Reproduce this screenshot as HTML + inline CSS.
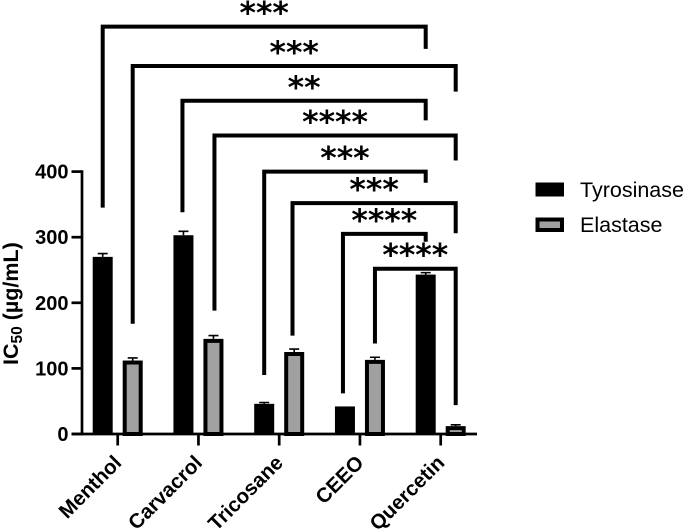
<!DOCTYPE html>
<html lang="en">
<head>
<meta charset="utf-8">
<title>IC50 chart</title>
<style>
html,body{margin:0;padding:0;background:#fff;width:685px;height:530px;overflow:hidden}
svg{display:block;filter:blur(0.35px)}
text{font-family:"Liberation Sans",sans-serif;fill:#000}
.tick{font-weight:bold;font-size:20px}
.cat{font-weight:bold;font-size:20.5px}
.stars{font-family:"DejaVu Sans",sans-serif;font-weight:bold;font-size:31.5px}
</style>
</head>
<body>
<svg id="chart" width="685" height="530" viewBox="0 0 685 530" xmlns="http://www.w3.org/2000/svg">
  <g id="brackets"></g>
  <g id="bars"></g>
  <g id="axes"></g>
  <text transform="translate(18,365) rotate(-90)" font-weight="bold" font-size="21.5">IC<tspan font-size="15.5" dy="4">50</tspan><tspan dy="-4"> (µg/mL)</tspan></text>
  <g>
    <rect x="535.5" y="182.5" width="28.5" height="14" fill="#000"/>
    <text x="580" y="197" font-size="21.5">Tyrosinase</text>
    <rect x="537.5" y="219.5" width="24.5" height="10.5" fill="#a0a0a0" stroke="#000" stroke-width="4"/>
    <text x="580" y="232" font-size="21.5">Elastase</text>
  </g>
</svg>
<script>
const categories = ["Menthol", "Carvacrol", "Tricosane", "CEEO", "Quercetin"];
const tyrosinase = [270, 303, 46, 42, 243];
const tyrosinaseError = [5, 6, 2, 0, 3];
const elastase = [112, 145, 125, 113, 12];
const elastaseError = [4, 5, 4.5, 4, 2];
const yTicks = [0, 100, 200, 300, 400];

const bracketLabels = ["***", "***", "**", "****", "***", "***", "****", "****"];
const bracketFromGroup = [0, 0, 1, 1, 2, 2, 3, 3];
const bracketFromSeries = [0, 1, 0, 1, 0, 1, 0, 1];
const bracketToSeries = [0, 1, 0, 1, 0, 1, 0, 1];
const bracketTop = [621, 561, 508, 455, 400, 352, 305, 252];
const bracketFromEnd = [345, 168, 338, 188, 90, 150, 62, 138];
const bracketToEnd = [587, 522, 478, 417, 383, 306, 293, 44];

const NS = "http://www.w3.org/2000/svg";
const Y0 = 434, PX_PER_UNIT = 0.656;
const GROUP_START = 92.7, GROUP_STEP = 80.75, BAR_W = 20, BAR_GAP = 10;
const AXIS_X = 82;
const BRACKET_NUDGE = [0, 0, -1, 1, 0, -1.7, -2, 0];

function yScale(v) { return Y0 - v * PX_PER_UNIT; }
function barLeft(g, s) { return GROUP_START + g * GROUP_STEP + s * (BAR_W + BAR_GAP); }
function barCenter(g, s) { return barLeft(g, s) + BAR_W / 2; }
function groupCenter(g) { return barLeft(g, 0) + BAR_W + BAR_GAP / 2; }
function make(parent, tag, attrs, txt) {
  const el = document.createElementNS(NS, tag);
  for (const k in attrs) el.setAttribute(k, attrs[k]);
  if (txt !== undefined) el.textContent = txt;
  parent.appendChild(el);
  return el;
}

const barsG = document.getElementById("bars");
const axesG = document.getElementById("axes");
const bracketsG = document.getElementById("brackets");

function drawBar(g, s, value, err) {
  const x = barLeft(g, s), top = yScale(value);
  const name = categories[g].toLowerCase() + (s === 0 ? "-tyrosinase" : "-elastase");
  if (err > 0) {
    const errLine = make(barsG, "path", {
      d: "M" + (x + BAR_W / 2) + " " + top + "V" + yScale(value + err) + "M" + (x + BAR_W / 2 - 5) + " " + yScale(value + err) + "h10",
      stroke: "#000", "stroke-width": 1.6, fill: "none"
    });
    
    
  }
  const attrs = s === 0
    ? { x: x, y: top, width: BAR_W, height: Y0 - top, fill: "#000" }
    : { x: x + 2, y: top + 2, width: BAR_W - 4, height: Math.max(Y0 - top - 2, 0), fill: "#a0a0a0", stroke: "#000", "stroke-width": 4 };
  const bar = make(barsG, "rect", attrs);
  
  
}
categories.forEach(function (c, g) {
  drawBar(g, 0, tyrosinase[g], tyrosinaseError[g]);
  drawBar(g, 1, elastase[g], elastaseError[g]);
});

const yAxis = make(axesG, "line", { x1: AXIS_X, x2: AXIS_X, y1: yScale(400) - 1.3, y2: Y0 + 1.3, stroke: "#000", "stroke-width": 2.7 });


const xAxis = make(axesG, "line", { x1: 71.5, x2: 477, y1: Y0, y2: Y0, stroke: "#000", "stroke-width": 2.7 });



yTicks.forEach(function (t) {
  const mark = make(axesG, "line", { x1: 71.5, x2: AXIS_X, y1: yScale(t), y2: yScale(t), stroke: "#000", "stroke-width": 2.7 });
  
  
  const label = make(axesG, "text", { x: 68.5, y: yScale(t) + 7, "text-anchor": "end", class: "tick" }, String(t));
  
  
});

categories.forEach(function (c, g) {
  const cx = groupCenter(g);
  const mark = make(axesG, "line", { x1: cx, x2: cx, y1: Y0, y2: 445.5, stroke: "#000", "stroke-width": 2.7 });
  
  
  const label = make(axesG, "text", {
    transform: "translate(" + (cx + 5) + ",464) rotate(-45)", "text-anchor": "end", class: "cat"
  }, c);
  
  
});

bracketLabels.forEach(function (lab, i) {
  const x1 = barCenter(bracketFromGroup[i], bracketFromSeries[i]) + BRACKET_NUDGE[i];
  const x2 = barCenter(4, bracketToSeries[i]);
  const yTop = yScale(bracketTop[i]);
  const line = make(bracketsG, "path", {
    d: "M" + x1 + " " + yScale(bracketFromEnd[i]) + "V" + yTop + "H" + x2 + "V" + yScale(bracketToEnd[i]),
    stroke: "#000", "stroke-width": 4, fill: "none"
  });
  
  
  const stars = make(bracketsG, "text", { x: (x1 + x2) / 2, y: yTop - 3, "text-anchor": "middle", class: "stars" }, lab);
  
  
});
</script>
</body>
</html>
